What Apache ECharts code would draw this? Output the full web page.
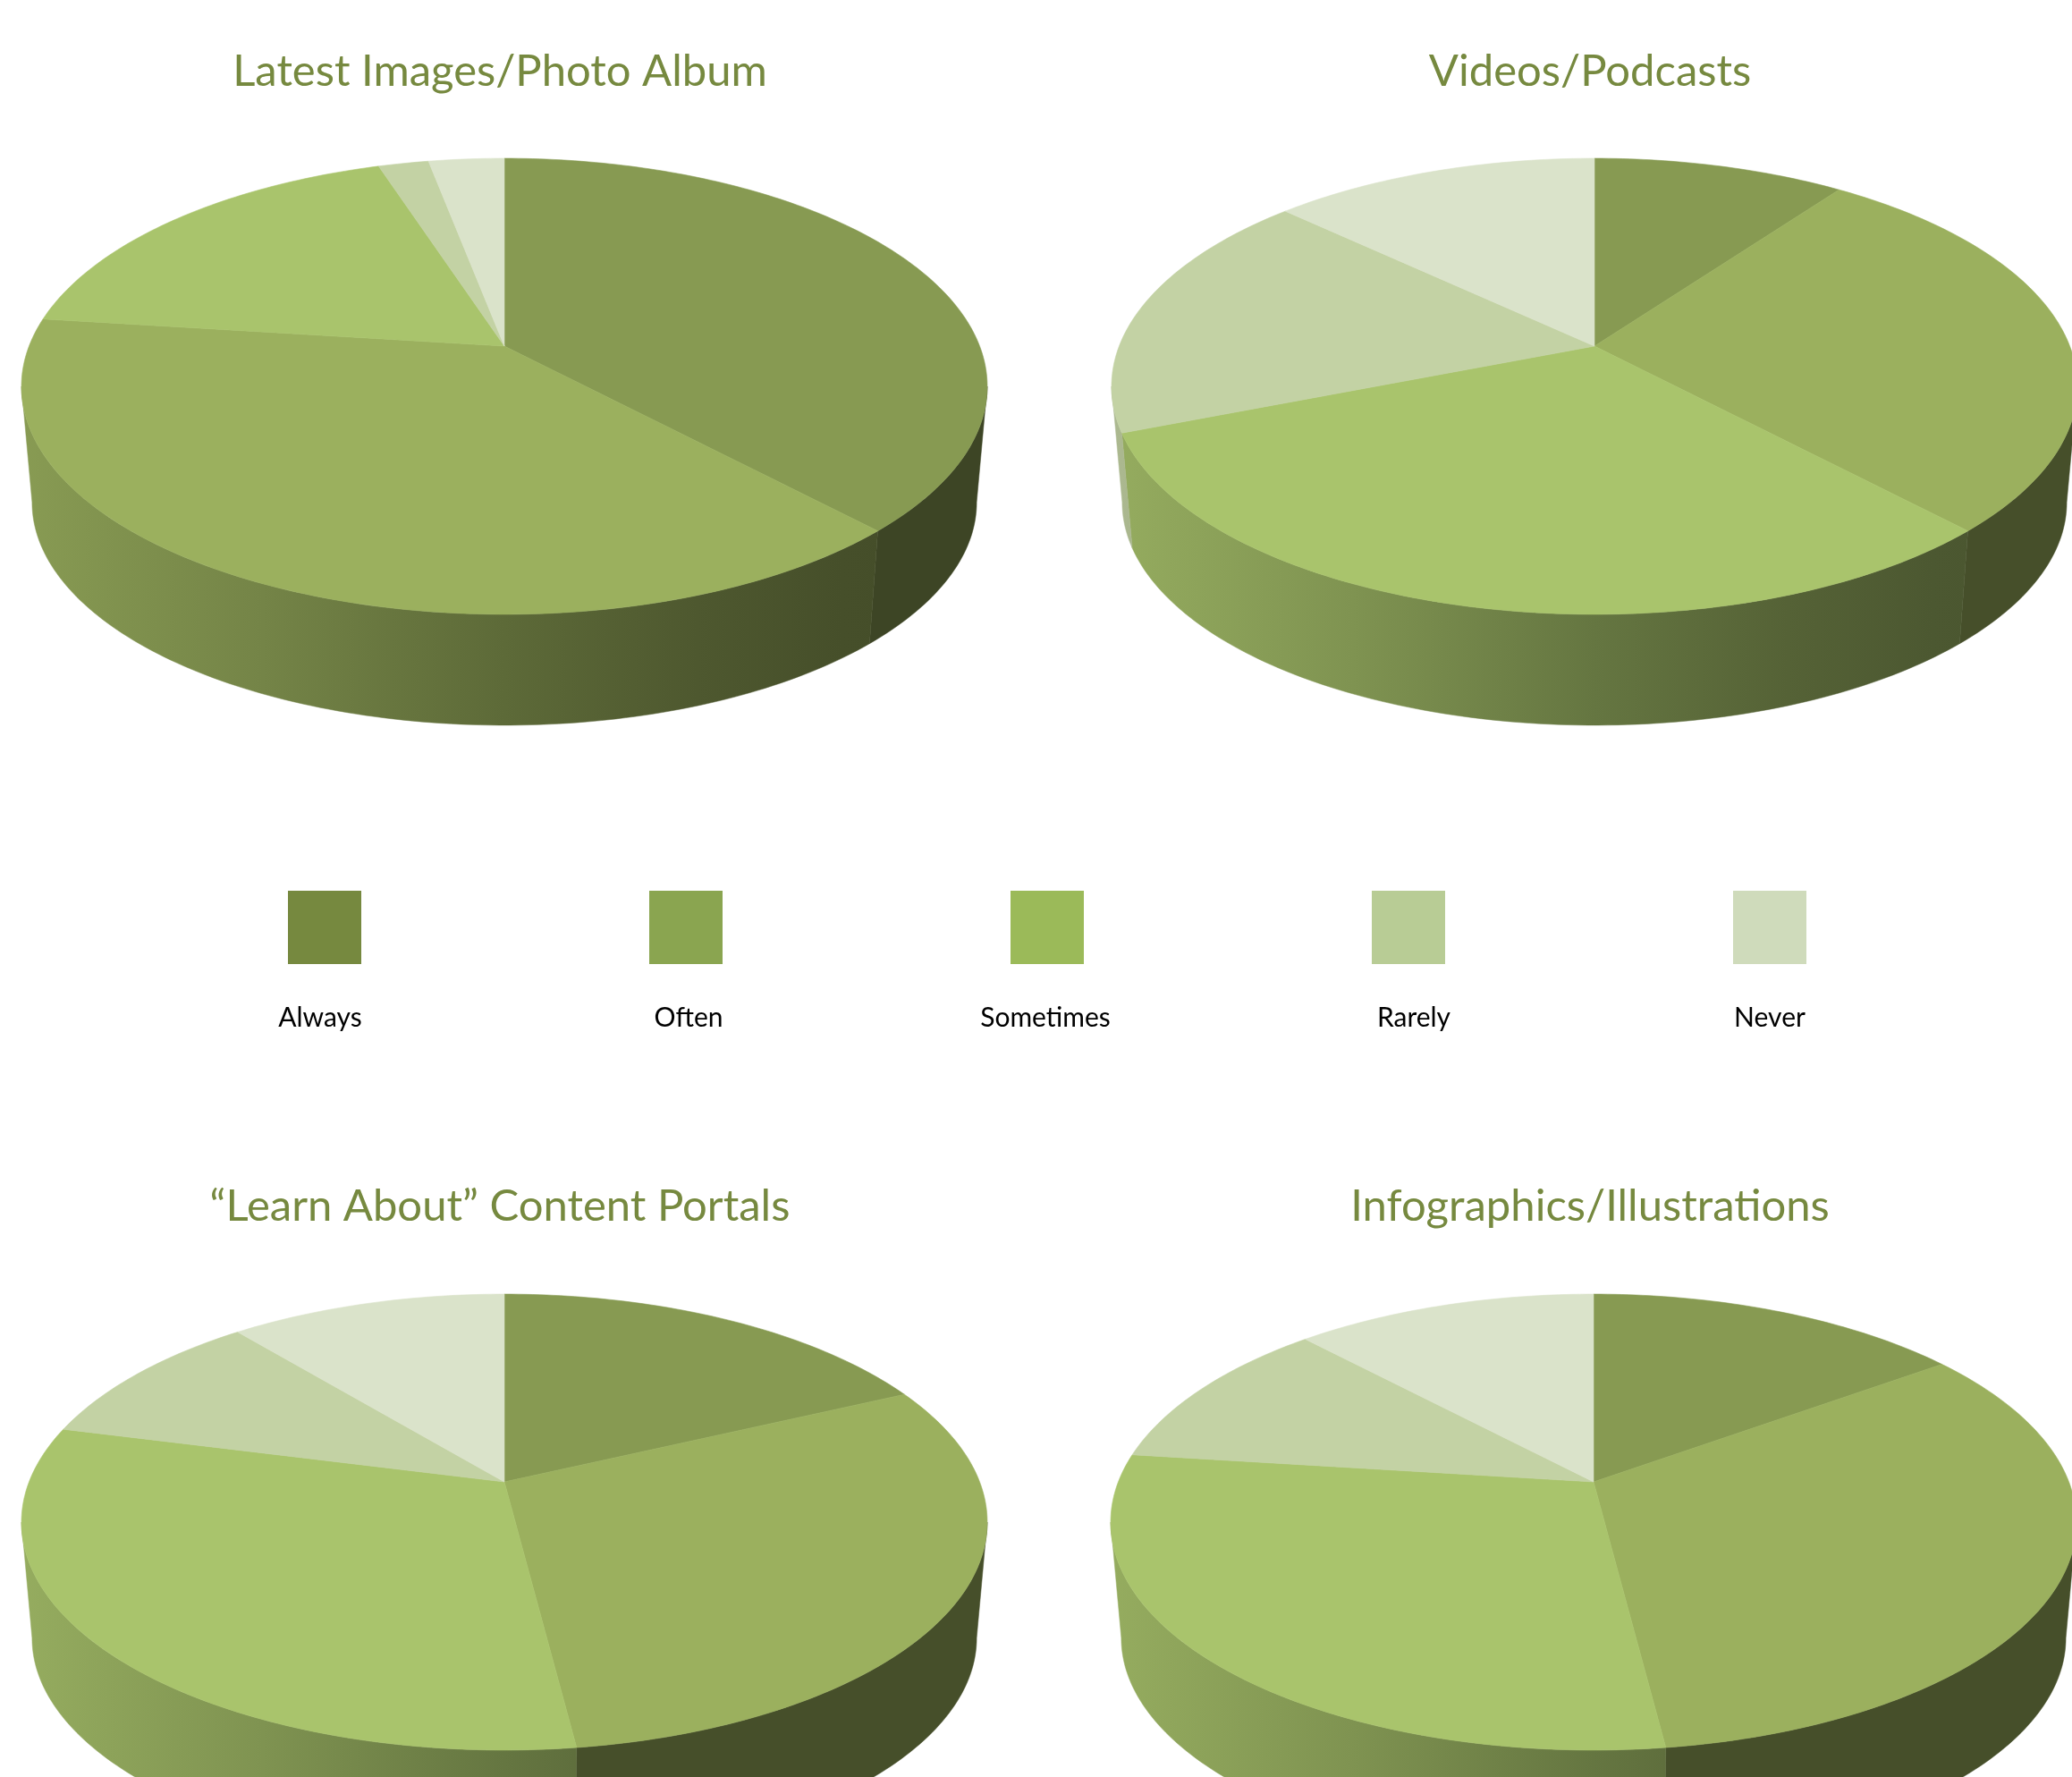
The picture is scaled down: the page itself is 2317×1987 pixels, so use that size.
<!DOCTYPE html>
<html><head><meta charset="utf-8">
<style>html,body{margin:0;padding:0;background:#fff}#c{width:2317px;height:1987px}</style>
<script src="https://cdn.jsdelivr.net/npm/echarts@6/dist/echarts.min.js"></script>
</head><body><div id="c"></div>
<script>
// ---- data ----
const categories = ['Always','Often','Sometimes','Rarely','Never'];
const pieTitles = ['Latest Images/Photo Album','Videos/Podcasts','\u201CLearn About\u201D Content Portals','Infographics/Illustrations'];
const latestImages = [38,39,18,2,3];
const videos = [10,28,31,18,13];
const learnAbout = [18,30,31,10,11];
const infographics = [15,33,29,11,12];
// ---- styles ----
const faceColors = ['#879a52','#9bb05e','#a9c46c','#c3d2a4','#dae3ca'];
const legendColors = ['#76893f','#8aa550','#9bba59','#b8cc95','#cfdbbb'];
const titleColor = '#76893f';
const FONT = 'Lato';
// ---- layout ----
const pieCenters = [[564,387],[1783,387],[564,1657],[1782,1657]];
const titleCenters = [[559,78],[1778,78],[559,1347],[1778,1347]];
const swatchX = [322,726,1130,1534,1938];
const legendLabelX = [358,770,1169,1581,1979];
const K = 0.1765, A = 247, B = 531.5, DEPTH = 130.6, BASE_SCALE = 0.978;
// the part of the rim that faces the viewer (fractions of a turn, clockwise from the top)
const FRONT_START = Math.acos(-K)/(2*Math.PI), FRONT_END = 1-FRONT_START;

function rim(cx, cy, frac, lower){
  const th = frac*2*Math.PI, u = Math.sin(th), v = -Math.cos(th);
  const s = lower ? BASE_SCALE : 1, d = 1-K*v;
  return [cx + s*B*u/d, cy + (lower?DEPTH:0) + s*A*v/d];
}
function shade(hex, f){
  const n = parseInt(hex.slice(1),16);
  return 'rgb('+[(n>>16)&255,(n>>8)&255,n&255].map(c=>Math.round(c*f)).join(',')+')';
}
function wallFill(color, cx, flat){
  if(flat) return shade(color,0.45);
  const stops=[[0,.88],[.25,.75],[.5,.60],[.7,.50],[.85,.45],[1,.43]];
  return {type:'linear',x:cx-540,y:0,x2:cx+540,y2:0,global:true,
    colorStops:stops.map(s=>({offset:s[0],color:shade(color,s[1])}))};
}
function arc(cx, cy, a, b, lower){
  const steps = Math.max(2,Math.ceil((b-a)*360)), pts=[];
  for(let s=0;s<=steps;s++) pts.push(rim(cx,cy,a+(b-a)*s/steps,lower));
  return pts;
}
function pieSeries(values, idx){
  const [cx,cy] = pieCenters[idx];
  const total = values.reduce((a,b)=>a+b,0);
  return {
    type:'custom', coordinateSystem:'none', silent:true, animation:false, name:pieTitles[idx],
    data: values.map((v,i)=>({name:categories[i],value:v})),
    renderItem(params, api){
      const i = params.dataIndex;
      const start = values.slice(0,i).reduce((a,b)=>a+b,0)/total;
      const end = start + api.value(0)/total;
      const children=[];
      const a = Math.max(start,FRONT_START), b = Math.min(end,FRONT_END);
      if(b>a){
        const fill = wallFill(faceColors[i],cx,end<=0.5);
        children.push({type:'polygon',z2:1,
          shape:{points:arc(cx,cy,a,b,false).concat(arc(cx,cy,a,b,true).reverse())},
          style:{fill:fill,stroke:fill,lineWidth:0.5}});
      }
      children.push({type:'polygon',z2:10,shape:{points:[[cx,cy]].concat(arc(cx,cy,start,end,false))},
        style:{fill:faceColors[i],stroke:faceColors[i],lineWidth:0.6}});
      return {type:'group',children:children};
    }
  };
}
const chart = echarts.init(document.getElementById('c'),null,{renderer:'canvas'});
const legendGraphics = [];
categories.forEach((c,i)=>{
  legendGraphics.push({type:'rect',shape:{x:swatchX[i],y:996,width:82,height:82},style:{fill:legendColors[i]}});
  legendGraphics.push({type:'text',x:legendLabelX[i],y:1138,style:{text:c,fill:'#000',font:'30px '+FONT,textAlign:'center',textVerticalAlign:'middle'}});
});
chart.setOption({
  backgroundColor:'#ffffff',
  animation:false,
  title: pieTitles.map((t,i)=>({text:t,left:titleCenters[i][0],top:titleCenters[i][1]-22,padding:0,textAlign:'center',
    textStyle:{color:titleColor,fontFamily:FONT,fontWeight:'normal',fontSize:49}})),
  graphic: legendGraphics,
  series:[latestImages,videos,learnAbout,infographics].map(pieSeries)
});
</script></body></html>
